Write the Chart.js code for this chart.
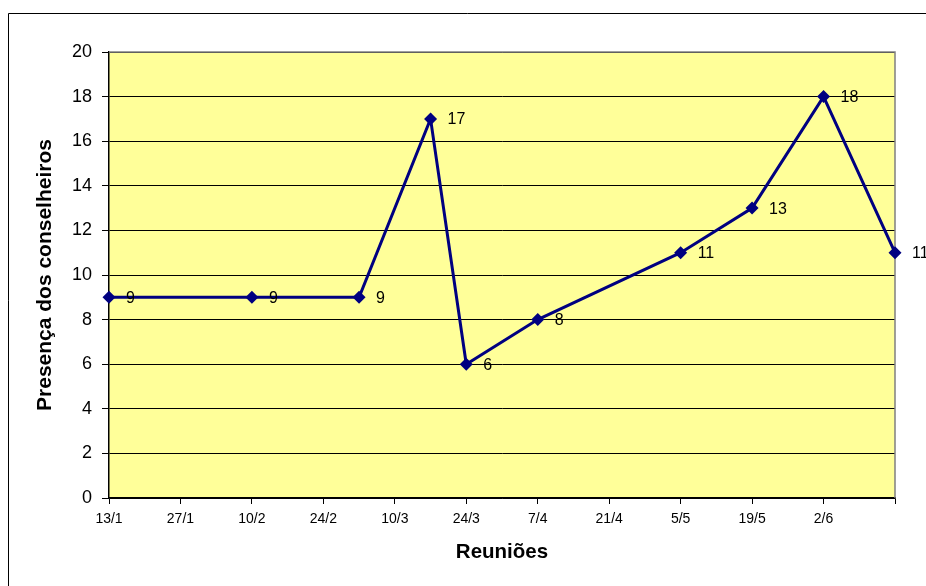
<!DOCTYPE html>
<html>
<head>
<meta charset="utf-8">
<script src="https://cdn.jsdelivr.net/npm/chart.js@4/dist/chart.umd.min.js"></script>
<style>
  html, body { margin: 0; padding: 0; background: #fff; }
  #wrap { width: 926px; height: 586px; }
</style>
</head>
<body>
<div id="wrap"><canvas id="c" width="926" height="586"></canvas></div>
<script>
// Meeting dates (day/month, 2009) and number of council members present
const meetingDates = ['13/1', '10/2', '3/3', '17/3', '24/3', '7/4', '5/5', '19/5', '2/6', '16/6'];
const attendance = [9, 9, 9, 17, 6, 8, 11, 13, 18, 11];
const year = 2009;
const axisStart = '13/1';
const axisEnd = '16/6';
const tickStepDays = 14;
const yTickValues = [0, 2, 4, 6, 8, 10, 12, 14, 16, 18, 20];

const DAY = 86400000;
function toUTC(dm) {
  const [d, m] = dm.split('/').map(Number);
  return Date.UTC(year, m - 1, d);
}
const t0 = toUTC(axisStart);
const dayOf = dm => Math.round((toUTC(dm) - t0) / DAY);
const fmtDay = n => {
  const dt = new Date(t0 + n * DAY);
  return dt.getUTCDate() + '/' + (dt.getUTCMonth() + 1);
};

const points = meetingDates.map((d, i) => ({ x: dayOf(d), y: attendance[i] }));
const lastDay = dayOf(axisEnd);

const FONT = "'Liberation Sans', Arial, sans-serif";

// Background, outer frame and yellow plot area
const framePlugin = {
  id: 'frame',
  beforeDraw(chart) {
    const { ctx, chartArea: a } = chart;
    ctx.save();
    ctx.fillStyle = '#ffffff';
    ctx.fillRect(0, 0, chart.width, chart.height);
    ctx.strokeStyle = '#000000';
    ctx.lineWidth = 1;
    ctx.beginPath();
    ctx.moveTo(8.5, chart.height + 1);
    ctx.lineTo(8.5, 13.5);
    ctx.lineTo(chart.width + 1, 13.5);
    ctx.stroke();
    ctx.fillStyle = '#FFFF99';
    ctx.fillRect(a.left, a.top, a.right - a.left, a.bottom - a.top);
    ctx.restore();
  },
  beforeDatasetsDraw(chart) {
    const { ctx, chartArea: a } = chart;
    ctx.save();
    ctx.strokeStyle = '#808080';
    ctx.lineWidth = 1.5;
    ctx.beginPath();
    ctx.moveTo(a.left, a.top);
    ctx.lineTo(a.right, a.top);
    ctx.lineTo(a.right, a.bottom);
    ctx.stroke();
    ctx.restore();
  }
};

// Value labels to the right of each marker
const valueLabels = {
  id: 'valueLabels',
  afterDatasetsDraw(chart) {
    const { ctx } = chart;
    const meta = chart.getDatasetMeta(0);
    ctx.save();
    ctx.font = '16px ' + FONT;
    ctx.fillStyle = '#000';
    ctx.textAlign = 'left';
    ctx.textBaseline = 'middle';
    meta.data.forEach((el, i) => {
      ctx.fillText(String(attendance[i]), el.x + 17, el.y + 1);
    });
    ctx.restore();
  }
};

new Chart(document.getElementById('c'), {
  type: 'line',
  data: {
    datasets: [{
      data: points,
      borderColor: '#000080',
      backgroundColor: '#000080',
      borderWidth: 3,
      pointStyle: 'rectRot',
      pointRadius: 6.5,
      pointHoverRadius: 6.5,
      pointBorderWidth: 0,
      tension: 0,
      clip: false
    }]
  },
  options: {
    responsive: false,
    animation: false,
    events: [],
    layout: { padding: { left: 0, top: 52, right: 31, bottom: 0 } },
    plugins: {
      legend: { display: false },
      tooltip: { enabled: false },
      title: { display: false }
    },
    scales: {
      x: {
        type: 'linear',
        min: 0,
        max: lastDay,
        afterFit(s) { s.height = 88; },
        afterBuildTicks(s) {
          const t = [];
          for (let v = 0; v <= lastDay; v += tickStepDays) t.push({ value: v });
          s.ticks = t;
        },
        ticks: {
          autoSkip: false,
          maxRotation: 0,
          padding: 7,
          color: '#000',
          font: { family: FONT, size: 14 },
          callback: v => (v >= lastDay ? '' : fmtDay(v))
        },
        grid: {
          drawOnChartArea: false,
          drawTicks: true,
          tickLength: 6,
          color: '#000',
          tickColor: '#000'
        },
        border: { display: true, color: '#000', width: 1.5 },
        title: {
          display: true,
          text: 'Reuniões',
          color: '#000',
          font: { family: FONT, size: 20.5, weight: 'bold' },
          padding: { top: 0, bottom: 21 }
        }
      },
      y: {
        min: 0,
        max: 20,
        afterFit(s) { s.width = 109; },
        afterBuildTicks(s) { s.ticks = yTickValues.map(v => ({ value: v })); },
        ticks: {
          padding: 10,
          color: '#000',
          font: { family: FONT, size: 18 }
        },
        grid: {
          drawTicks: true,
          tickLength: 7,
          color: '#000',
          tickColor: '#000',
          lineWidth: 1
        },
        border: { display: true, color: '#000', width: 1.5 },
        title: {
          display: true,
          text: 'Presença dos conselheiros',
          color: '#000',
          font: { family: FONT, size: 21, weight: 'bold' },
          padding: { top: 33, bottom: 0 }
        }
      }
    }
  },
  plugins: [framePlugin, valueLabels]
});
</script>
</body>
</html>
